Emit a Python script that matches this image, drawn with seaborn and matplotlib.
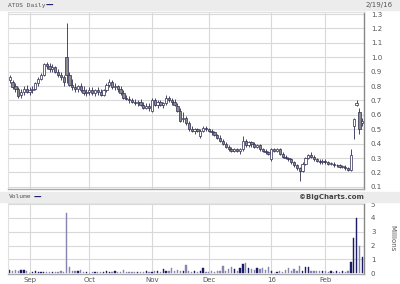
import numpy as np
import pandas as pd
import matplotlib
matplotlib.use("Agg")
import matplotlib.pyplot as plt
from matplotlib.patches import Rectangle
import seaborn as sns

# ---------------- data ----------------
holidays = ["2015-09-07", "2015-11-26", "2015-12-25", "2016-01-01",
            "2016-01-18", "2016-02-15"]
start_date = "2015-08-21"
end_date = "2016-02-19"

open_ = [0.84, 0.83, 0.80, 0.78, 0.74, 0.76, 0.78, 0.76, 0.77, 0.78,
         0.82, 0.85, 0.88, 0.95, 0.94, 0.92, 0.93, 0.90, 0.88, 0.86,
         1.00, 0.88, 0.81, 0.79, 0.78, 0.80, 0.77, 0.75, 0.76, 0.77,
         0.75, 0.77, 0.76, 0.74, 0.77, 0.81, 0.83, 0.79, 0.80, 0.78,
         0.75, 0.72, 0.71, 0.70, 0.69, 0.68, 0.69, 0.67, 0.65, 0.66,
         0.63, 0.70, 0.67, 0.69, 0.67, 0.68, 0.72, 0.70, 0.69, 0.66,
         0.63, 0.57, 0.58, 0.54, 0.50, 0.49, 0.50, 0.45, 0.49, 0.51,
         0.50, 0.49, 0.48, 0.46, 0.44, 0.42, 0.40, 0.38, 0.36, 0.35,
         0.36, 0.35, 0.36, 0.42, 0.39, 0.41, 0.40, 0.38, 0.39, 0.36,
         0.35, 0.34, 0.29, 0.36, 0.35, 0.36, 0.33, 0.31, 0.30, 0.29,
         0.27, 0.25, 0.23, 0.21, 0.26, 0.30, 0.32, 0.31, 0.29, 0.28,
         0.27, 0.28, 0.27, 0.26, 0.26, 0.25, 0.25, 0.24, 0.24, 0.23,
         0.22, 0.52, 0.67, 0.62, 0.54]
high = [0.88, 0.84, 0.82, 0.79, 0.78, 0.80, 0.81, 0.79, 0.80, 0.83,
        0.86, 0.89, 0.96, 0.97, 0.96, 0.95, 0.94, 0.92, 0.90, 0.88,
        1.24, 0.90, 0.85, 0.82, 0.81, 0.82, 0.80, 0.78, 0.79, 0.79,
        0.78, 0.79, 0.78, 0.78, 0.82, 0.85, 0.84, 0.82, 0.81, 0.80,
        0.77, 0.74, 0.73, 0.72, 0.71, 0.70, 0.71, 0.69, 0.68, 0.68,
        0.72, 0.72, 0.70, 0.70, 0.69, 0.74, 0.73, 0.72, 0.71, 0.68,
        0.65, 0.62, 0.59, 0.56, 0.52, 0.51, 0.51, 0.50, 0.52, 0.52,
        0.51, 0.50, 0.49, 0.47, 0.46, 0.43, 0.41, 0.39, 0.38, 0.37,
        0.37, 0.37, 0.45, 0.43, 0.42, 0.42, 0.41, 0.40, 0.40, 0.37,
        0.36, 0.35, 0.37, 0.37, 0.37, 0.37, 0.34, 0.32, 0.31, 0.30,
        0.28, 0.26, 0.24, 0.27, 0.31, 0.33, 0.34, 0.32, 0.30, 0.29,
        0.29, 0.29, 0.28, 0.27, 0.27, 0.26, 0.26, 0.25, 0.25, 0.24,
        0.36, 0.58, 0.70, 0.65, 0.58]
low = [0.82, 0.78, 0.76, 0.72, 0.72, 0.74, 0.75, 0.74, 0.75, 0.77,
       0.80, 0.84, 0.87, 0.92, 0.90, 0.90, 0.89, 0.86, 0.84, 0.80,
       0.82, 0.80, 0.77, 0.76, 0.76, 0.76, 0.74, 0.73, 0.74, 0.74,
       0.73, 0.74, 0.73, 0.73, 0.76, 0.79, 0.78, 0.77, 0.76, 0.74,
       0.71, 0.70, 0.68, 0.68, 0.67, 0.66, 0.66, 0.64, 0.64, 0.63,
       0.62, 0.66, 0.65, 0.66, 0.65, 0.67, 0.69, 0.67, 0.66, 0.62,
       0.55, 0.55, 0.53, 0.49, 0.48, 0.47, 0.48, 0.44, 0.48, 0.49,
       0.48, 0.46, 0.45, 0.43, 0.41, 0.39, 0.37, 0.35, 0.34, 0.34,
       0.34, 0.33, 0.35, 0.38, 0.38, 0.38, 0.37, 0.37, 0.35, 0.34,
       0.33, 0.32, 0.28, 0.34, 0.34, 0.32, 0.30, 0.29, 0.28, 0.26,
       0.24, 0.22, 0.14, 0.20, 0.25, 0.29, 0.30, 0.28, 0.27, 0.26,
       0.26, 0.26, 0.25, 0.25, 0.24, 0.24, 0.23, 0.23, 0.22, 0.21,
       0.21, 0.43, 0.66, 0.47, 0.52]
close = [0.86, 0.79, 0.78, 0.73, 0.76, 0.78, 0.76, 0.77, 0.78, 0.82,
         0.85, 0.88, 0.95, 0.94, 0.92, 0.93, 0.90, 0.88, 0.86, 0.83,
         0.88, 0.81, 0.79, 0.78, 0.80, 0.77, 0.75, 0.76, 0.77, 0.75,
         0.77, 0.76, 0.74, 0.77, 0.81, 0.83, 0.79, 0.80, 0.78, 0.75,
         0.72, 0.71, 0.70, 0.69, 0.68, 0.69, 0.67, 0.65, 0.66, 0.65,
         0.70, 0.67, 0.69, 0.67, 0.68, 0.72, 0.70, 0.69, 0.67, 0.63,
         0.56, 0.58, 0.54, 0.50, 0.49, 0.50, 0.49, 0.49, 0.51, 0.50,
         0.49, 0.48, 0.46, 0.44, 0.42, 0.40, 0.38, 0.36, 0.35, 0.36,
         0.35, 0.36, 0.42, 0.39, 0.41, 0.40, 0.38, 0.39, 0.36, 0.35,
         0.34, 0.33, 0.36, 0.35, 0.36, 0.33, 0.31, 0.30, 0.29, 0.27,
         0.25, 0.23, 0.21, 0.26, 0.30, 0.32, 0.31, 0.29, 0.28, 0.27,
         0.28, 0.27, 0.26, 0.26, 0.25, 0.25, 0.24, 0.24, 0.23, 0.22,
         0.32, 0.57, 0.68, 0.50, 0.56]
volume_m = [0.25, 0.20, 0.25, 0.18, 0.22, 0.25, 0.15,
            0.05, 0.12, 0.15, 0.10, 0.06, 0.10, 0.08, 0.06, 0.10, 0.08, 0.12, 0.15, 0.12,
            4.35,
            0.45, 0.20, 0.15, 0.20, 0.25, 0.10, 0.08,
            0.05, 0.08, 0.10, 0.06, 0.12, 0.08, 0.15, 0.10, 0.06, 0.20, 0.10,
            0.08, 0.25, 0.12, 0.08, 0.10, 0.06, 0.12, 0.08, 0.10, 0.15, 0.12,
            0.10, 0.15, 0.20, 0.12, 0.30, 0.15, 0.20, 0.35, 0.18, 0.25,
            0.20, 0.15, 0.60, 0.20, 0.10, 0.18, 0.12, 0.15, 0.35, 0.10,
            0.12, 0.18, 0.10, 0.15, 0.20, 0.55, 0.20, 0.30, 0.45, 0.30,
            0.20, 0.35, 0.70, 0.75, 0.40, 0.30, 0.25, 0.35, 0.30, 0.40,
            0.25, 0.45, 0.20, 0.05, 0.10, 0.15, 0.10, 0.25, 0.40, 0.15,
            0.30, 0.20, 0.50, 0.15, 0.45, 0.45, 0.20, 0.15, 0.20, 0.18,
            0.15, 0.20, 0.12, 0.15, 0.10, 0.18, 0.12, 0.15, 0.10, 0.15,
            0.80, 2.55, 4.00, 1.95, 1.15]
month_labels = ["Sep", "Oct", "Nov", "Dec", "16", "Feb"]
price_ticks = [0.1, 0.2, 0.3, 0.4, 0.5, 0.6, 0.7, 0.8, 0.9, 1.0, 1.1, 1.2, 1.3]
volume_ticks = [0, 1, 2, 3, 4, 5]

# ---------------- frame ----------------
dates = pd.bdate_range(start_date, end_date, freq="C", holidays=holidays)
n = len(dates)
df = pd.DataFrame({"date": dates[:n], "idx": np.arange(n),
                   "open": open_[:n], "high": high[:n], "low": low[:n],
                   "close": close[:n], "vol": volume_m[:n]})
df["dir"] = np.where(df["close"] >= df["open"], "up", "down")
month_first = df.groupby(df["date"].dt.to_period("M"))["idx"].min().values[1:]

sns.set_style("white")
plt.rcParams["font.family"] = ["DejaVu Sans"]

fig = plt.figure(figsize=(4.0, 2.84), dpi=100)
W, H = 400, 284

def fx(px):
    return px / W

def fy(py):
    return 1 - py / H

grid_c = "#d9d9d9"
band_c = "#ececec"
txt_c = "#555555"
ink = "#2b2b55"
vol_colors = {"up": "#1c1c66", "down": "#8585ad"}

# bands
fig.patches.append(Rectangle((0, fy(10)), 1, 10 / H, transform=fig.transFigure,
                             color=band_c, zorder=0))
fig.patches.append(Rectangle((0, fy(202)), 1, 10 / H, transform=fig.transFigure,
                             color=band_c, zorder=0))

xl = (-0.6, n - 0.4)

def style_axes(ax):
    for s in ["left", "top"]:
        ax.spines[s].set_color("#e0e0e0")
        ax.spines[s].set_linewidth(0.8)
    ax.spines["right"].set_color("#888888")
    ax.spines["bottom"].set_color("#aaaaaa")
    ax.spines["right"].set_linewidth(1.0)
    ax.spines["bottom"].set_linewidth(1.0)

# ---------------- price panel ----------------
axp = fig.add_axes([fx(8), fy(189), fx(364 - 8), (189 - 12) / H])
axp.set_xlim(*xl)
axp.set_ylim(0.085, 1.314)
for m in month_first:
    axp.axvline(m, color=grid_c, lw=0.8, zorder=0)
for t in price_ticks:
    axp.axhline(t, color=grid_c, lw=0.8, zorder=0)

axp.vlines(df["idx"], df["low"], df["high"], color=ink, lw=0.6, zorder=2)
body_bottom = np.minimum(df["open"], df["close"])
body_h = np.maximum(np.abs(df["close"] - df["open"]), 0.004)
fc = np.where(df["dir"] == "up", "white", "#8a8a8a")
axp.bar(df["idx"], body_h, bottom=body_bottom, width=0.8, color=fc,
        edgecolor=ink, linewidth=0.5, zorder=3)

axp.yaxis.tick_right()
axp.set_yticks(price_ticks)
axp.set_yticklabels([f"{t:.1f}" for t in price_ticks])
axp.tick_params(axis="y", length=0, pad=5, labelsize=5, labelcolor=txt_c)
axp.set_xticks([])
style_axes(axp)

# ---------------- volume panel ----------------
axv = fig.add_axes([fx(8), fy(274), fx(364 - 8), (274 - 203) / H])
for m in month_first:
    axv.axvline(m, color=grid_c, lw=0.8, zorder=0)
for t in volume_ticks[1:]:
    axv.axhline(t, color=grid_c, lw=0.8, zorder=0)
sns.barplot(data=df, x="idx", y="vol", native_scale=True, width=0.45,
            color=vol_colors["down"], errorbar=None, ax=axv)
for patch, d in zip(axv.patches, df["dir"]):
    patch.set_facecolor(vol_colors[d])
    patch.set_edgecolor(vol_colors[d])
    patch.set_linewidth(0.3)
    patch.set_zorder(2)
axv.set_xlim(*xl)
axv.set_ylim(-0.05, 5.08)
axv.yaxis.tick_right()
axv.set_yticks(volume_ticks)
axv.set_yticklabels([str(t) for t in volume_ticks])
axv.tick_params(axis="y", length=0, pad=5, labelsize=5, labelcolor=txt_c)
axv.set_xticks(month_first)
axv.set_xticklabels(month_labels)
axv.tick_params(axis="x", length=0, pad=2, labelsize=5, labelcolor=txt_c)
axv.set_xlabel("")
axv.set_ylabel("")
style_axes(axv)

# ---------------- texts ----------------
fig.text(fx(8), fy(5), "ATOS Daily", fontsize=4.5, color=txt_c, va="center",
         family="DejaVu Sans Mono")
fig.text(fx(46), fy(5), "\u2014", fontsize=5.5, color="#1c1c66", va="center",
         fontweight="bold")
fig.text(fx(366), fy(5), "2/19/16", fontsize=5, color=txt_c, va="center")
fig.text(fx(9), fy(197), "Volume", fontsize=4.5, color=txt_c, va="center",
         family="DejaVu Sans Mono")
fig.text(fx(34), fy(197), "\u2014", fontsize=5.5, color="#1c1c66", va="center",
         fontweight="bold")
fig.text(fx(364), fy(197), "\u00a9BigCharts.com", fontsize=5, color="#444444",
         va="center", ha="right", fontweight="bold")
fig.text(fx(392), fy(238), "Millions", fontsize=5, color=txt_c, va="center",
         ha="center", rotation=270)

fig.savefig("out.png", dpi=100)
